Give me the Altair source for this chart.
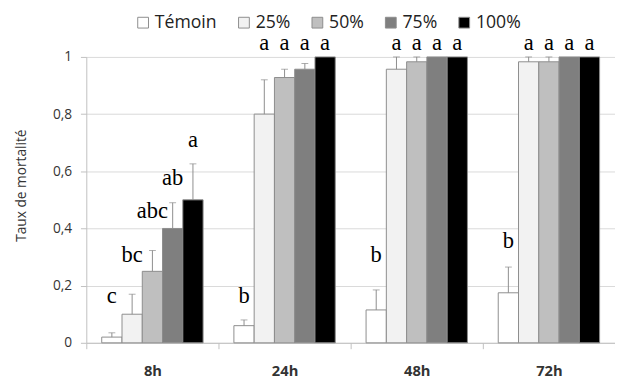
import altair as alt
import pandas as pd

times = ["8h", "24h", "48h", "72h"]
series = ["Témoin", "25%", "50%", "75%", "100%"]
colors = ["#ffffff", "#f2f2f2", "#bfbfbf", "#7f7f7f", "#000000"]

# mean mortality rate per series (one value per time)
temoin = [0.02, 0.06, 0.115, 0.175]
p25 = [0.10, 0.80, 0.957, 0.983]
p50 = [0.25, 0.928, 0.983, 0.983]
p75 = [0.40, 0.957, 1.0, 1.0]
p100 = [0.50, 1.0, 1.0, 1.0]

# upper error (standard error)
err_temoin = [0.015, 0.02, 0.07, 0.09]
err_p25 = [0.07, 0.12, 0.043, 0.017]
err_p50 = [0.073, 0.029, 0.017, 0.017]
err_p75 = [0.09, 0.02, 0.0, 0.0]
err_p100 = [0.126, 0.0, 0.0, 0.0]

# significance letters and the height (in data units) where they sit
let_temoin = ["c", "b", "b", "b"]
let_p25 = ["bc", "a", "a", "a"]
let_p50 = ["abc", "a", "a", "a"]
let_p75 = ["ab", "a", "a", "a"]
let_p100 = ["a", "a", "a", "a"]
lety_temoin = [0.14, 0.14, 0.284, 0.332]
lety_p25 = [0.284, 1.023, 1.023, 1.023]
lety_p50 = [0.438, 1.023, 1.023, 1.023]
lety_p75 = [0.551, 1.023, 1.023, 1.023]
lety_p100 = [0.685, 1.023, 1.023, 1.023]

vals = [temoin, p25, p50, p75, p100]
errs = [err_temoin, err_p25, err_p50, err_p75, err_p100]
lets = [let_temoin, let_p25, let_p50, let_p75, let_p100]
letys = [lety_temoin, lety_p25, lety_p50, lety_p75, lety_p100]

rows = []
for s, v, e, l, ly in zip(series, vals, errs, lets, letys):
    for i, t in enumerate(times):
        rows.append({"time": t, "series": s, "value": v[i], "err": e[i],
                     "top": v[i] + e[i], "letter": l[i], "ly": ly[i]})
df = pd.DataFrame(rows)

FONT = "Open Sans"
GRAY = "#8c8c8c"

x = alt.X("time:N", sort=times,
          scale=alt.Scale(paddingInner=0, paddingOuter=0),
          axis=alt.Axis(title=None, tickBand="extent", tickSize=6, tickColor="#bfbfbf",
                        domainColor="#bfbfbf", labelAngle=0, labelFont=FONT,
                        labelFontSize=15, labelFontWeight="bold", labelColor="#333333",
                        labelPadding=15, grid=False))
xo = alt.XOffset("series:N", sort=series,
                 scale=alt.Scale(domain=series, paddingInner=0, paddingOuter=0.76))
yax = alt.Axis(values=[0, 0.2, 0.4, 0.6, 0.8, 1],
               labelExpr="replace(format(datum.value, '.1~f'), '.', ',')",
               title="Taux de mortalité", titleFont=FONT, titleFontSize=14,
               titleFontWeight="normal", titleColor="#333333",
               titleX=-66, titleY=131, titleAngle=270, titleAlign="center",
               titleBaseline="middle",
               labelFont=FONT, labelFontSize=14, labelColor="#333333", labelPadding=9,
               grid=True, gridColor="#d9d9d9", domainColor="#bfbfbf",
               tickColor="#bfbfbf", tickSize=6)
y = alt.Y("value:Q", scale=alt.Scale(domain=[0, 1], nice=False), axis=yax)

base = alt.Chart(df)

bars = base.mark_bar(stroke=GRAY, strokeWidth=1).encode(
    x=x, xOffset=xo, y=y,
    color=alt.Color("series:N", sort=series,
                    scale=alt.Scale(domain=series, range=colors),
                    legend=alt.Legend(title=None, orient="none", legendX=49, legendY=-44,
                                      direction="horizontal", symbolType="square",
                                      symbolSize=121, symbolStrokeColor=GRAY,
                                      symbolStrokeWidth=1, symbolOpacity=1,
                                      labelFont=FONT, labelFontSize=18,
                                      labelColor="#222222", columnPadding=18,
                                      labelOffset=3)),
)

err_rule = base.transform_filter("datum.err > 0").mark_rule(color=GRAY, strokeWidth=1).encode(
    x=x, xOffset=xo, y=alt.Y("value:Q"), y2=alt.Y2("top:Q"))

err_cap = base.transform_filter("datum.err > 0").mark_tick(
    color=GRAY, thickness=1, size=7, orient="horizontal").encode(
    x=x, xOffset=xo, y=alt.Y("top:Q"))

letters = base.mark_text(font="Liberation Serif", fontSize=23, baseline="alphabetic",
                         align="center", color="#000000").encode(
    x=x, xOffset=xo, y=alt.Y("ly:Q"), text="letter:N")

chart = alt.layer(bars, err_rule, err_cap, letters).properties(
    width=540, height=292,
    autosize=alt.AutoSizeParams(type="none"),
    padding={"left": 80, "top": 46, "right": 0, "bottom": 34},
).configure_view(stroke=None)

chart.save("out.html", embed_options={"renderer": "svg", "actions": False})
